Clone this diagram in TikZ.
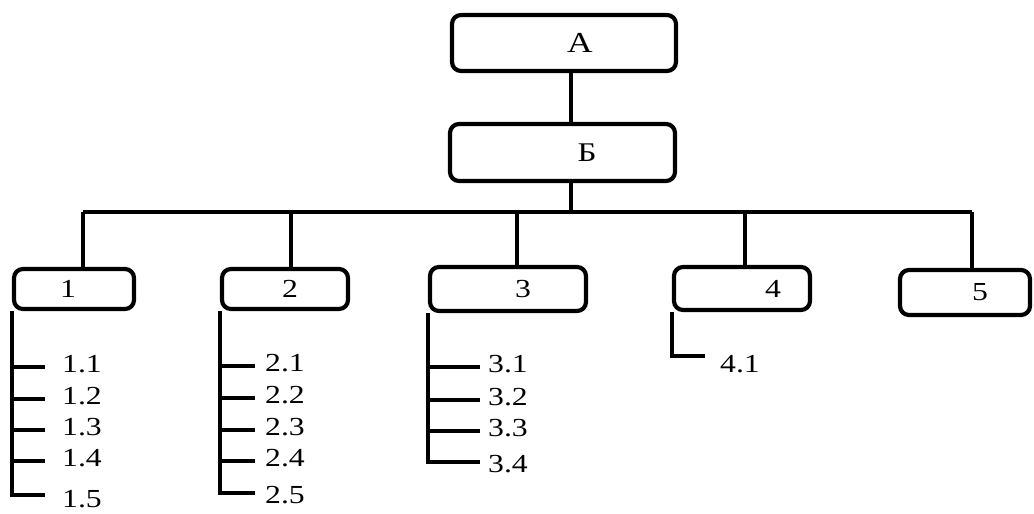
\documentclass[tikz,border=0pt]{standalone}
\usepackage{fontspec}
\setmainfont{Liberation Serif}[FakeStretch=1.22]
\begin{document}
\begin{tikzpicture}[x=1pt,y=-1pt,
 box/.style={draw, line width=4.2pt, rounded corners=9pt, inner sep=0pt, font=\fontsize{26}{30}\selectfont},
 conn/.style={line width=3.8pt},
 leaf/.style={anchor=west, inner ysep=0pt, inner xsep=#1, text height=17pt, text depth=6pt, font=\fontsize{26}{30}\selectfont},
 lowleaf/.style={text height=#1, text depth=0pt}]
\useasboundingbox[fill=white] (0,0) rectangle (1034,514);
% top boxes
\node[box, minimum width=224pt, minimum height=56pt, font=\fontsize{29}{32}\selectfont] (A) at (564,43) {\hspace*{32pt}A};
\node[box, minimum width=225pt, minimum height=57pt, font=\fontsize{27}{30}\selectfont] (B) at (562.5,152.5) {\hspace*{49pt}Б};
% level boxes
\node[box, minimum width=120pt, minimum height=40pt] (b1) at (74,289) {1\hspace*{12pt}};
\node[box, minimum width=126pt, minimum height=40pt] (b2) at (285,289) {\hspace*{10pt}2};
\node[box, minimum width=156pt, minimum height=44pt] (b3) at (508,289) {\hspace*{30pt}3};
\node[box, minimum width=136pt, minimum height=43pt] (b4) at (742,288.5) {\hspace*{62pt}4};
\node[box, minimum width=130pt, minimum height=45pt] (b5) at (965,292.5) {\hspace*{30pt}5};
% connectors top
\coordinate (t) at (571,100);
\coordinate (v1) at (83,212);
\coordinate (v2) at (291,212);
\coordinate (v3) at (517,212);
\coordinate (v4) at (745,212);
\coordinate (v5) at (972,212);
\draw[conn] (A.south -| t) -- (B.north -| t);
\draw[conn] (B.south -| t) -- (t |- v1);
\draw[conn] (v1) -- (v5);
\draw[conn] (v1) -- (b1.north -| v1);
\draw[conn] (v2) -- (b2.north -| v2);
\draw[conn] (v3) -- (b3.north -| v3);
\draw[conn] (v4) -- (b4.north -| v4);
\draw[conn] (v5) -- (b5.north -| v5);
% leaves group 1
\node[leaf=17pt] (l11) at (45,367) {1.1};
\node[leaf=17pt] (l12) at (45,399) {1.2};
\node[leaf=17pt] (l13) at (45,430) {1.3};
\node[leaf=17pt] (l14) at (45,461) {1.4};
\node[leaf=17pt, lowleaf=24pt] (l15) at (45,495) {1.5};
\draw[conn] (b1.south west) -- (b1.south west |- l15.west) -- (l15.west);
\foreach \n in {l11,l12,l13,l14} \draw[conn] (b1.south west |- \n.west) -- (\n.west);
% leaves group 2
\node[leaf=10pt] (l21) at (255,366) {2.1};
\node[leaf=10pt] (l22) at (255,398) {2.2};
\node[leaf=10pt] (l23) at (255,430) {2.3};
\node[leaf=10pt] (l24) at (255,461) {2.4};
\node[leaf=10pt, lowleaf=20pt] (l25) at (255,493) {2.5};
\draw[conn] (b2.south west) -- (b2.south west |- l25.west) -- (l25.west);
\foreach \n in {l21,l22,l23,l24} \draw[conn] (b2.south west |- \n.west) -- (\n.west);
% leaves group 3
\node[leaf=8pt] (l31) at (480,367) {3.1};
\node[leaf=8pt] (l32) at (480,400) {3.2};
\node[leaf=8pt] (l33) at (480,431) {3.3};
\node[leaf=8pt, lowleaf=20pt] (l34) at (480,462) {3.4};
\draw[conn] (b3.south west) -- (b3.south west |- l34.west) -- (l34.west);
\foreach \n in {l31,l32,l33} \draw[conn] (b3.south west |- \n.west) -- (\n.west);
% leaves group 4
\node[leaf=15pt, lowleaf=32pt] (l41) at (705,356) {4.1};
\draw[conn] (b4.south west) -- (b4.south west |- l41.west) -- (l41.west);
\end{tikzpicture}
\end{document}
